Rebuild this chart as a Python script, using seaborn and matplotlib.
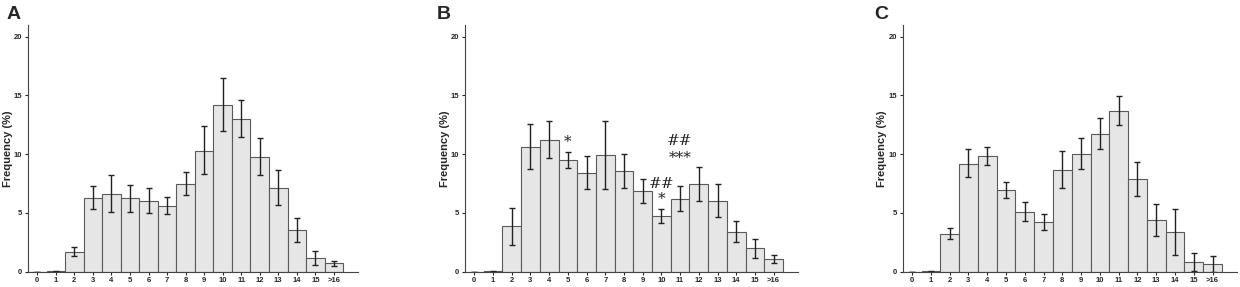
import matplotlib
matplotlib.use("Agg")
from matplotlib import pyplot as plt
import pandas as pd
import numpy as np
import seaborn as sns

categories = ['0', '1', '2', '3', '4', '5', '6', '7', '8', '9', '10', '11', '12', '13', '14', '15', '>16']

freq_a = [0, 0.05, 1.7, 6.3, 6.6, 6.25, 6.0, 5.6, 7.5, 10.3, 14.2, 13.0, 9.8, 7.15, 3.55, 1.2, 0.7]
low_a = [0, 0.0, 1.3, 5.3, 5.1, 5.1, 5.0, 4.9, 6.5, 8.3, 12.0, 11.5, 8.25, 5.65, 2.55, 0.6, 0.45]
high_a = [0, 0.1, 2.1, 7.3, 8.2, 7.4, 7.1, 6.35, 8.5, 12.4, 16.5, 14.6, 11.35, 8.65, 4.55, 1.8, 0.9]

freq_b = [0, 0.05, 3.85, 10.6, 11.2, 9.5, 8.4, 9.9, 8.55, 6.85, 4.75, 6.2, 7.45, 6.05, 3.4, 2.0, 1.05]
low_b = [0, 0.0, 2.3, 8.7, 9.65, 8.85, 7.0, 7.05, 7.15, 5.85, 4.15, 5.2, 6.0, 4.65, 2.5, 1.15, 0.7]
high_b = [0, 0.1, 5.4, 12.6, 12.8, 10.15, 9.85, 12.8, 10.0, 7.85, 5.35, 7.25, 8.9, 7.45, 4.3, 2.8, 1.4]

freq_c = [0, 0.05, 3.2, 9.2, 9.85, 6.95, 5.1, 4.2, 8.65, 10.05, 11.7, 13.7, 7.85, 4.4, 3.4, 0.85, 0.65]
low_c = [0, 0.0, 2.75, 8.05, 9.05, 6.3, 4.3, 3.55, 7.1, 8.7, 10.4, 12.45, 6.45, 3.05, 1.45, 0.05, 0.0]
high_c = [0, 0.1, 3.7, 10.4, 10.65, 7.6, 5.9, 4.9, 10.25, 11.35, 13.05, 14.95, 9.3, 5.75, 5.35, 1.6, 1.3]

# significance marks on panel B: (bar index, y value, text)
marks_b = [(5, 11.0, '*'), (10, 7.5, '##'), (10, 6.2, '*'), (11, 11.1, '##'), (11, 9.7, '***')]

panels = [
    ('A', freq_a, low_a, high_a, [0.0226, 0.0533, 0.2661, 0.86]),
    ('B', freq_b, low_b, high_b, [0.375, 0.0533, 0.2685, 0.86]),
    ('C', freq_c, low_c, high_c, [0.728, 0.0533, 0.2696, 0.86]),
]
letter_x = [0.005, 0.352, 0.705]

sns.set_style("ticks")
plt.rcParams['font.family'] = ['Liberation Sans', 'DejaVu Sans']
fig = plt.figure(figsize=(12.4, 2.87), dpi=100)

for i, (name, freq, low, high, rect) in enumerate(panels):
    ax = fig.add_axes(rect)
    df = pd.DataFrame({'Score': categories, 'Frequency': freq})
    sns.barplot(data=df, x='Score', y='Frequency', ax=ax, color='#e6e6e6',
                edgecolor='#5a5a5a', linewidth=0.8, width=1.0, errorbar=None,
                saturation=1)
    f = np.array(freq)
    yerr = [f - np.array(low), np.array(high) - f]
    ax.errorbar(np.arange(len(categories)), f, yerr=yerr, fmt='none',
                ecolor='#222222', elinewidth=1.0, capsize=2.2, capthick=1.0)
    ax.set_xlim(-0.5, 17.3)
    ax.set_ylim(0, 21)
    ax.set_yticks([0, 5, 10, 15, 20])
    ax.set_xlabel('')
    ax.set_ylabel('Frequency (%)', fontsize=8, fontweight='bold', labelpad=1)
    ax.tick_params(axis='both', labelsize=5.5, length=2.5, width=0.8, pad=1.5)
    for lab in ax.get_xticklabels() + ax.get_yticklabels():
        lab.set_fontweight('bold')
    sns.despine(ax=ax)
    ax.spines['left'].set_color('#444444')
    ax.spines['bottom'].set_color('#444444')
    fig.text(letter_x[i], 0.95, name, fontsize=14, fontweight='bold', va='center')

    if name == 'B':
        for idx, yv, txt in marks_b:
            ax.text(idx, yv, txt, ha='center', va='center', fontsize=11,
                    family='DejaVu Serif', color='#222222')

fig.savefig('out.png', dpi=100)
